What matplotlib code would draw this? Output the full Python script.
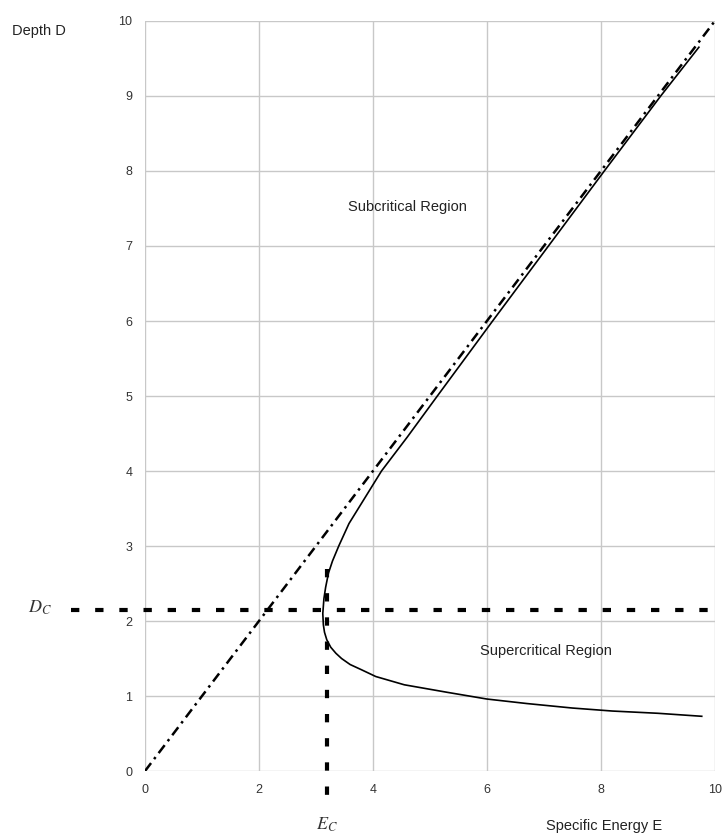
import matplotlib
matplotlib.use('Agg')
import matplotlib.pyplot as plt

plt.rcParams['font.family'] = ['Liberation Sans', 'DejaVu Sans']
plt.rcParams['mathtext.fontset'] = 'stix'

# specific energy curve, read as (E, D) pairs from the upper branch down
energy = [9.72, 9.05, 8.06, 7.08, 6.10, 5.13, 4.60, 4.15, 3.80, 3.58, 3.40, 3.29,
          3.22, 3.17, 3.14, 3.12, 3.13, 3.15, 3.19, 3.26, 3.35, 3.45, 3.60, 3.80,
          4.05, 4.55, 5.30, 6.00, 6.70, 7.50, 8.20, 9.00, 9.77]
depth = [9.65, 9.00, 8.00, 7.00, 6.00, 5.00, 4.45, 4.00, 3.57, 3.30, 3.00, 2.80,
         2.64, 2.45, 2.30, 2.10, 1.95, 1.85, 1.75, 1.65, 1.57, 1.50, 1.42, 1.35,
         1.26, 1.15, 1.05, 0.96, 0.90, 0.84, 0.80, 0.77, 0.73]

# E = D line
diag_e = [0, 10]
diag_d = [0, 10]

d_crit = 2.15
e_crit = 3.2

xticks = [0, 2, 4, 6, 8, 10]
yticks = list(range(0, 11))

fig = plt.figure(figsize=(7.25, 8.39), dpi=100)
ax = fig.add_axes([0.2, 0.081, 0.786, 0.894])

ax.plot(diag_e, diag_d, color='black', lw=1.8, linestyle=(0, (4, 2, 1, 2)))
ax.plot(energy, depth, color='black', lw=1.2)

# critical depth / critical energy markers run past the axes
ax.plot([-1.3, 10], [d_crit, d_crit], color='black', lw=3, linestyle=(0, (2, 3.8)),
        clip_on=False)
ax.plot([e_crit, e_crit], [2.7, -0.4], color='black', lw=3, linestyle=(0, (2, 3.8)),
        clip_on=False)

ax.set_xlim(0, 10)
ax.set_ylim(0, 10)
ax.set_xticks(xticks)
ax.set_yticks(yticks)
ax.tick_params(length=0, labelsize=9, labelcolor='#333333')
ax.tick_params(axis='x', pad=9)
ax.tick_params(axis='y', pad=9)
ax.grid(True, color='#c8c8c8', lw=1)
ax.set_axisbelow(True)
for s in ax.spines.values():
    s.set_visible(False)

ax.text(4.6, 7.52, 'Subcritical Region', fontsize=10.5, ha='center', va='center', color='#222222')
ax.text(7.03, 1.6, 'Supercritical Region', fontsize=10.5, ha='center', va='center', color='#222222')
ax.text(8.05, -0.73, 'Specific Energy E', fontsize=10.5, ha='center', va='center',
        color='#222222', clip_on=False)
fig.text(0.017, 0.963, 'Depth D', fontsize=10.5, ha='left', va='center', color='#222222')

ax.text(-1.84, 2.17, '$D_C$', fontsize=13, ha='center', va='center', color='#333333', clip_on=False)
ax.text(e_crit, -0.72, '$E_C$', fontsize=13, ha='center', va='center', color='#333333', clip_on=False)

fig.savefig('out.png', dpi=100)
